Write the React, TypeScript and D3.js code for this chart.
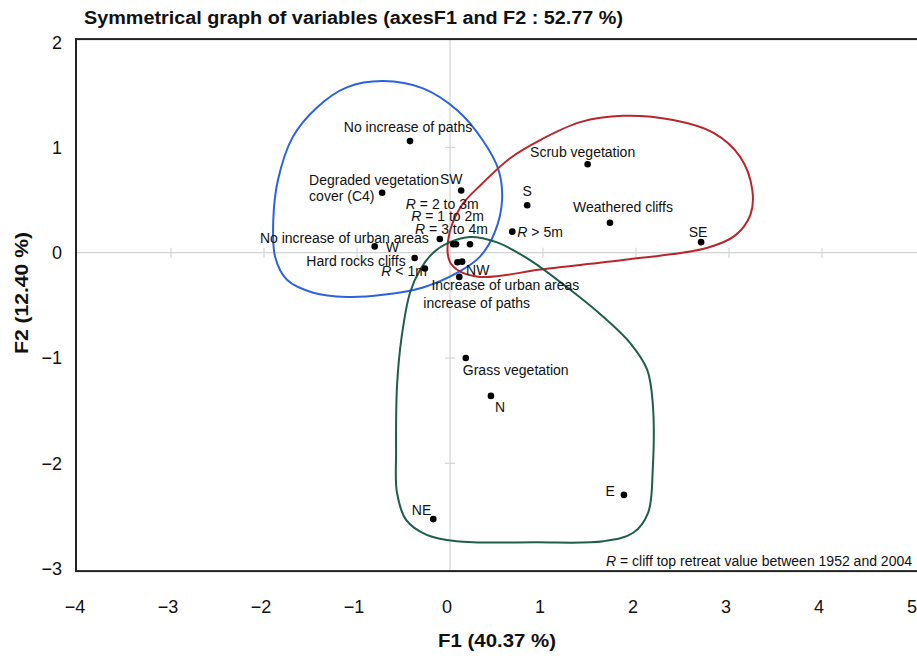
import React, { useEffect, useRef } from "react";
import * as d3 from "d3";

// variables (F1, F2 coordinates)
const varNames = [
  "No increase of paths", "Degraded vegetation|cover (C4)", "SW", "No increase of urban areas", "W",
  "R = 2 to 3m", "R = 1 to 2m", "R = 3 to 4m", "Hard rocks cliffs", "R < 1m",
  "Increase of urban areas", "NW", "increase of paths", "Scrub vegetation", "S",
  "Weathered cliffs", "R > 5m", "SE", "Grass vegetation", "N", "E", "NE",
];
const f1Values = [-0.43, -0.73, 0.12, -0.11, -0.81, 0.035, 0.065, 0.215, -0.38, -0.27, 0.08, 0.13, 0.1, 1.48, 0.83, 1.72, 0.67, 2.7, 0.17, 0.44, 1.87, -0.18];
const f2Values = [1.06, 0.57, 0.59, 0.13, 0.06, 0.08, 0.08, 0.08, -0.05, -0.15, -0.09, -0.085, -0.23, 0.84, 0.45, 0.285, 0.2, 0.1, -1.0, -1.36, -2.3, -2.53];

const xTicks = [-4, -3, -2, -1, 0, 1, 2, 3, 4, 5];
const yTicks = [-3, -2, -1, 0, 1, 2];

// hand drawn groupings, in F1/F2 units
const blueGroup: [number, number][] = [
  [-0.72, 1.63], [-0.29, 1.56], [0.08, 1.35], [0.35, 1.07], [0.52, 0.79], [0.56, 0.5], [0.48, 0.19],
  [0.32, -0.04], [0.08, -0.19], [-0.29, -0.33], [-0.72, -0.4], [-1.11, -0.42], [-1.47, -0.38],
  [-1.75, -0.26], [-1.88, -0.04], [-1.9, 0.31], [-1.85, 0.69], [-1.69, 1.1], [-1.43, 1.38], [-1.11, 1.57],
];
const redGroup: [number, number][] = [
  [-0.02, 0.12], [0.0, -0.09], [0.11, -0.18], [0.32, -0.23], [0.54, -0.22], [0.97, -0.16], [1.86, -0.07],
  [2.76, 0.045], [3.06, 0.16], [3.23, 0.36], [3.25, 0.6], [3.12, 0.91], [2.83, 1.14], [2.4, 1.26],
  [1.86, 1.3], [1.4, 1.24], [0.97, 1.07], [0.65, 0.9], [0.35, 0.66], [0.11, 0.43],
];
const greenGroup: [number, number][] = [
  [0.215, 0.15], [0.5, 0.1], [0.86, -0.07], [1.29, -0.35], [1.65, -0.61], [1.94, -0.86], [2.12, -1.11],
  [2.18, -1.43], [2.18, -2.06], [2.13, -2.47], [1.97, -2.66], [1.65, -2.74], [0.93, -2.75], [0.07, -2.74],
  [-0.25, -2.68], [-0.47, -2.54], [-0.57, -2.28], [-0.58, -1.9], [-0.57, -1.27], [-0.52, -0.8],
  [-0.43, -0.38], [-0.32, -0.16], [-0.18, 0.0], [0.0, 0.1],
];

// label placement: [dx, dy, anchor]
const labelPos: Record<string, [number, number, string]> = {
  "No increase of paths": [-2, -9, "middle"],
  "Degraded vegetation|cover (C4)": [-73, -8, "start"],
  "SW": [-10, -7, "middle"],
  "No increase of urban areas": [-11, 4, "end"],
  "W": [11, 6, "start"],
  "R = 2 to 3m": [-11, -35, "middle"],
  "R = 1 to 2m": [-8.5, -23, "middle"],
  "R = 3 to 4m": [-18.5, -10, "middle"],
  "Hard rocks cliffs": [-9, 8, "end"],
  "R < 1m": [2, 8, "end"],
  "Increase of urban areas": [-26, 28, "start"],
  "NW": [4, 13, "start"],
  "increase of paths": [-36, 31, "start"],
  "Scrub vegetation": [-5, -7, "middle"],
  "S": [0, -9, "middle"],
  "Weathered cliffs": [13, -11, "middle"],
  "R > 5m": [5, 5, "start"],
  "SE": [-3, -5, "middle"],
  "Grass vegetation": [-3, 17, "start"],
  "N": [4, 16, "start"],
  "E": [-9, 1, "end"],
  "NE": [-2, -4, "end"],
};

const W = 917, H = 660;
const FONT = "'Liberation Sans', Arial, sans-serif";
const NARROW = "'Liberation Sans Narrow', 'Arial Narrow', 'Liberation Sans', Arial, sans-serif";

const App = () => {
  const ref = useRef<SVGSVGElement>(null);

  useEffect(() => {
    if (!ref.current) return;
    const svg = d3.select(ref.current);
    svg.selectAll("*").remove();

    const x = d3.scaleLinear().domain([-4, 5]).range([78, 915]);
    const y = d3.scaleLinear().domain([-3, 2]).range([568.6, 42.1]);
    const fmt = d3.format("d");

    const left = x(-4) - 2, right = W + 2, top = y(2) - 3, bottom = y(-3) + 2.5;

    // zero lines
    svg.append("line").attr("x1", x(0)).attr("x2", x(0)).attr("y1", top).attr("y2", bottom)
      .attr("stroke", "#d4d4d4").attr("stroke-width", 1.2);
    svg.append("line").attr("x1", left).attr("x2", right).attr("y1", y(0)).attr("y2", y(0))
      .attr("stroke", "#d4d4d4").attr("stroke-width", 1.2);

    svg.append("g").selectAll("line").data(xTicks.filter(d => d > -4 && d < 5 && d !== 0)).join("line")
      .attr("x1", d => x(d)).attr("x2", d => x(d)).attr("y1", y(0) - 5).attr("y2", y(0) + 5)
      .attr("stroke", "#d4d4d4").attr("stroke-width", 1.2);
    svg.append("g").selectAll("line").data(yTicks.filter(d => d > -3 && d < 2 && d !== 0)).join("line")
      .attr("x1", x(0) - 5).attr("x2", x(0) + 5).attr("y1", d => y(d)).attr("y2", d => y(d))
      .attr("stroke", "#d4d4d4").attr("stroke-width", 1.2);

    // frame
    svg.append("rect").attr("x", left).attr("y", top).attr("width", right - left).attr("height", bottom - top)
      .attr("fill", "none").attr("stroke", "#222").attr("stroke-width", 2);

    // groups
    const line = d3.line<[number, number]>().x(d => x(d[0])).y(d => y(d[1])).curve(d3.curveCatmullRomClosed.alpha(0.5));
    [[blueGroup, "#2a62e0"], [redGroup, "#b8262c"], [greenGroup, "#1f5e4c"]].forEach(([pts, col]) => {
      svg.append("path").attr("d", line(pts as [number, number][]))
        .attr("fill", "none").attr("stroke", col as string).attr("stroke-width", 2);
    });

    // points
    const pts = varNames.map((n, i) => ({ name: n, f1: f1Values[i], f2: f2Values[i] }));
    svg.append("g").selectAll("circle").data(pts).join("circle")
      .attr("cx", d => x(d.f1)).attr("cy", d => y(d.f2)).attr("r", 3.3).attr("fill", "#000");

    const labels = svg.append("g").attr("font-family", FONT).attr("font-size", 14).attr("fill", "#111");
    pts.forEach(p => {
      const [dx, dy, anchor] = labelPos[p.name];
      const lines = p.name.split("|");
      lines.forEach((ln, j) => {
        const t = labels.append("text").attr("x", x(p.f1) + dx).attr("y", y(p.f2) + dy + j * 16)
          .attr("text-anchor", anchor);
        if (ln.startsWith("R ")) {
          t.append("tspan").attr("font-style", "italic").text("R");
          t.append("tspan").text(ln.slice(1));
        } else {
          t.text(ln);
        }
      });
    });

    // note
    const note = svg.append("text").attr("x", 912).attr("y", 566).attr("text-anchor", "end")
      .attr("font-family", FONT).attr("font-size", 14).attr("fill", "#111");
    note.append("tspan").attr("font-style", "italic").text("R");
    note.append("tspan").text(" = cliff top retreat value between 1952 and 2004");

    // tick labels
    svg.append("g").selectAll("text").data(yTicks).join("text")
      .attr("x", 62).attr("y", d => y(d)).attr("dy", "0.36em").attr("text-anchor", "end")
      .attr("font-family", FONT).attr("font-size", 18).attr("fill", "#111").text(d => fmt(d));
    svg.append("g").selectAll("text").data(xTicks).join("text")
      .attr("x", d => x(d) - 3).attr("y", 613).attr("text-anchor", "middle")
      .attr("font-family", FONT).attr("font-size", 18).attr("fill", "#111").text(d => fmt(d));

    // titles
    svg.append("text").attr("x", 84).attr("y", 24).attr("textLength", 539).attr("lengthAdjust", "spacingAndGlyphs")
      .attr("font-family", NARROW).attr("font-weight", "bold").attr("font-size", 18).attr("fill", "#111")
      .text("Symmetrical graph of variables  (axesF1 and F2 : 52.77 %)");
    svg.append("text").attr("x", 497).attr("y", 647).attr("text-anchor", "middle")
      .attr("textLength", 118).attr("lengthAdjust", "spacingAndGlyphs")
      .attr("font-family", NARROW).attr("font-weight", "bold").attr("font-size", 18).attr("fill", "#111")
      .text("F1 (40.37 %)");
    svg.append("text").attr("transform", "translate(28,293) rotate(-90)").attr("text-anchor", "middle")
      .attr("textLength", 122).attr("lengthAdjust", "spacingAndGlyphs")
      .attr("font-family", NARROW).attr("font-weight", "bold").attr("font-size", 18).attr("fill", "#111")
      .text("F2 (12.40 %)");
  }, []);

  return (
    <svg ref={ref} width={W} height={H} style={{ position: "absolute", left: 0, top: 0, background: "#fff" }}></svg>
  );
};

export default App;
